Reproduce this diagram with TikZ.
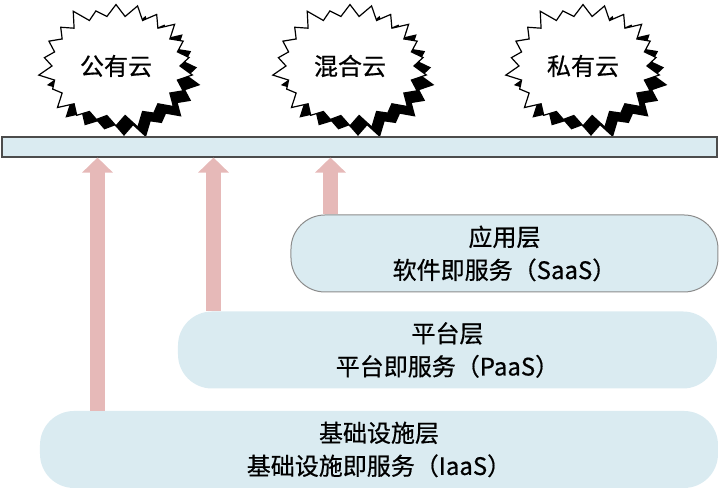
\documentclass[tikz,border=0pt]{standalone}
\usepackage{fontspec}
\setmainfont{Noto Sans CJK SC}[FakeBold=0.6]
\usetikzlibrary{shapes.symbols,shadows,arrows.meta}
\definecolor{layerblue}{HTML}{DAEBF1}
\definecolor{arrowpink}{HTML}{E6B9B8}
\begin{document}
\begin{tikzpicture}[x=0.5pt,y=0.5pt,
    cloud/.style={starburst,starburst points=22,starburst point height=8pt,draw=black,fill=white,line width=0.6pt,
        minimum width=80pt,minimum height=66pt,inner sep=0pt,font=\fontsize{12}{14}\selectfont,
        drop shadow={shadow xshift=4pt,shadow yshift=-5pt,fill=black,opacity=1}},
    layer/.style={rounded corners=17pt,fill=layerblue,align=center,font=\fontsize{12}{16.5}\selectfont,minimum height=38.5pt},
    uparrow/.style={draw=arrowpink,line width=7.5pt,-{Triangle[width=15pt,length=7.5pt]}}]
    \useasboundingbox(0,0)rectangle(720,490);

    % the three clouds
    \node[cloud](public)at(116,424){公有云};
    \node[cloud](hybrid)at(350,424){混合云};
    \node[cloud](private)at(583,424){私有云};

    % bar under the clouds
    \node[draw=black!70,fill=layerblue,line width=0.6pt,minimum width=357.5pt,minimum height=10pt,inner sep=0pt](bar)at(359.5,343){};

    % service layers
    \node[layer,draw=black!45,line width=0.5pt,minimum width=213.5pt](saas)at(504.5,236.5){应用层\\软件即服务（SaaS）};
    \node[layer,minimum width=269.5pt](paas)at(447.5,140){平台层\\平台即服务（PaaS）};
    \node[layer,minimum width=339pt](iaas)at(379,40.5){基础设施层\\基础设施即服务（IaaS）};

    % arrows up to the bar
    \coordinate(a1)at(97.5,0);
    \coordinate(a2)at(213.5,0);
    \coordinate(a3)at(330.5,0);
    \draw[uparrow](a1|-iaas.north)--(a1|-bar.south);
    \draw[uparrow](a2|-paas.north)--(a2|-bar.south);
    \draw[uparrow](a3|-saas.north)--(a3|-bar.south);
\end{tikzpicture}
\end{document}
